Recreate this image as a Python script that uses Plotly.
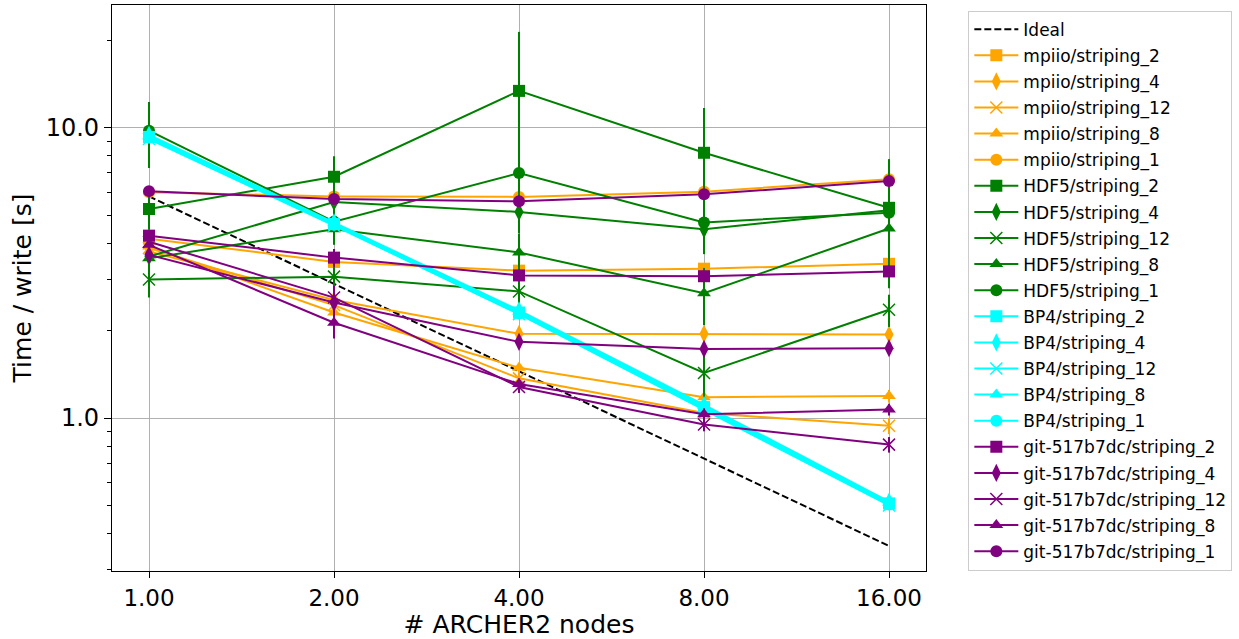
import plotly.graph_objects as go

nodes = [1, 2, 4, 8, 16]
x_ticktext = ["1.00", "2.00", "4.00", "8.00", "16.00"]
y_tickvals = [1, 10]
y_ticktext = ["1.0", "10.0"]

ideal = [5.8, 2.9, 1.45, 0.725, 0.3625]

mpiio_2 = [4.15, 3.45, 3.22, 3.27, 3.40]
mpiio_4 = [3.75, 2.55, 1.95, 1.95, 1.94]
mpiio_12 = [3.85, 2.45, 1.37, 1.04, 0.94]
mpiio_8 = [3.90, 2.31, 1.49, 1.18, 1.19]
mpiio_1 = [6.00, 5.80, 5.78, 6.02, 6.65]
mpiio_err = [0.10, 0.08, 0.06, 0.06, 0.06]

hdf5_2 = [5.25, 6.78, 13.4, 8.2, 5.3]
hdf5_4 = [3.60, 5.55, 5.13, 4.47, 5.2]
hdf5_12 = [3.00, 3.07, 2.73, 1.43, 2.36]
hdf5_8 = [3.55, 4.47, 3.72, 2.69, 4.5]
hdf5_1 = [9.77, 4.75, 6.98, 4.72, 5.1]
hdf5_2_err = [0.8, 1.2, 8.0, 3.5, 2.5]
hdf5_4_err = [0.5, 0.6, 0.8, 0.8, 0.6]
hdf5_12_err = [0.4, 0.3, 0.3, 0.35, 0.3]
hdf5_8_err = [0.4, 0.5, 0.6, 0.6, 0.8]
hdf5_1_err = [2.5, 0.8, 1.5, 1.0, 0.8]

bp4_2 = [9.30, 4.66, 2.31, 1.09, 0.508]
bp4_4 = [9.45, 4.72, 2.35, 1.11, 0.515]
bp4_12 = [9.15, 4.60, 2.28, 1.07, 0.500]
bp4_8 = [9.35, 4.69, 2.33, 1.10, 0.512]
bp4_1 = [9.25, 4.63, 2.29, 1.08, 0.504]
bp4_err = [0.05, 0.03, 0.02, 0.01, 0.005]

git_2 = [4.25, 3.57, 3.10, 3.08, 3.20]
git_4 = [3.65, 2.50, 1.83, 1.73, 1.74]
git_12 = [4.05, 2.60, 1.28, 0.95, 0.81]
git_8 = [3.95, 2.13, 1.31, 1.03, 1.07]
git_1 = [6.05, 5.68, 5.58, 5.90, 6.55]
git_err = [0.12, 0.25, 0.06, 0.05, 0.05]

ORANGE = "#FFA500"
GREEN = "#008000"
CYAN = "#00FFFF"
PURPLE = "#800080"

symbols = {"2": "square", "4": "diamond-tall", "12": "x-thin-open",
           "8": "triangle-up", "1": "circle"}

series = [
    ("mpiio", ORANGE, [("2", mpiio_2, mpiio_err), ("4", mpiio_4, mpiio_err),
                       ("12", mpiio_12, mpiio_err), ("8", mpiio_8, mpiio_err),
                       ("1", mpiio_1, mpiio_err)]),
    ("HDF5", GREEN, [("2", hdf5_2, hdf5_2_err), ("4", hdf5_4, hdf5_4_err),
                     ("12", hdf5_12, hdf5_12_err), ("8", hdf5_8, hdf5_8_err),
                     ("1", hdf5_1, hdf5_1_err)]),
    ("BP4", CYAN, [("2", bp4_2, bp4_err), ("4", bp4_4, bp4_err),
                   ("12", bp4_12, bp4_err), ("8", bp4_8, bp4_err),
                   ("1", bp4_1, bp4_err)]),
    ("git-517b7dc", PURPLE, [("2", git_2, git_err), ("4", git_4, git_err),
                             ("12", git_12, git_err), ("8", git_8, git_err),
                             ("1", git_1, git_err)]),
]

fig = go.Figure()
fig.add_trace(go.Scatter(x=nodes, y=ideal, mode="lines", name="Ideal",
                         legendgroup="ideal",
                         line=dict(color="black", width=2, dash="7px,3px")))

for lib, color, items in series:
    for stripe, vals, err in items:
        sym = symbols[stripe]
        if sym == "x-thin-open":
            marker = dict(symbol=sym, size=12, color=color, line=dict(color=color, width=1.5))
        elif sym == "diamond-tall":
            marker = dict(symbol=sym, size=13, color=color, line=dict(width=0))
        else:
            marker = dict(symbol=sym, size=12, color=color, line=dict(width=0))
        name = f"{lib}/striping_{stripe}"
        fig.add_trace(go.Scatter(
            x=nodes, y=vals, mode="lines+markers",
            name=name, legendgroup=name,
            line=dict(color=color, width=2),
            marker=marker,
            error_y=dict(type="data", array=err, visible=True, color=color,
                         thickness=2, width=0),
        ))

minor_vals = [0.3, 0.4, 0.5, 0.6, 0.7, 0.8, 0.9, 2, 3, 4, 5, 6, 7, 8, 9, 20]

fig.update_layout(
    width=1239, height=639,
    margin=dict(l=112, r=313, t=5, b=68),
    paper_bgcolor="white", plot_bgcolor="white",
    font=dict(family="DejaVu Sans", size=16, color="black"),
    showlegend=True,
    legend=dict(x=1.052, y=0.99, xanchor="left", yanchor="top",
                bordercolor="#cccccc", borderwidth=1, bgcolor="white",
                font=dict(size=17, family="DejaVu Sans"),
                itemwidth=44, tracegroupgap=1.0),
)
fig.update_xaxes(
    type="log", range=[-0.0602, 1.2643],
    tickvals=nodes, ticktext=x_ticktext,
    tickfont=dict(size=23),
    ticks="outside", ticklen=6, tickwidth=1, tickcolor="black",
    showgrid=True, gridcolor="#b0b0b0", gridwidth=1,
    showline=True, linecolor="black", linewidth=1.2, mirror=True,
    zeroline=False,
    title=dict(text="# ARCHER2 nodes", font=dict(size=25), standoff=3),
)
fig.update_yaxes(
    type="log", range=[-0.527, 1.423],
    tickvals=y_tickvals, ticktext=y_ticktext,
    tickfont=dict(size=24),
    ticks="outside", ticklen=7, tickwidth=1, tickcolor="black",
    minor=dict(tickvals=minor_vals, ticks="outside", ticklen=4, tickcolor="black",
               showgrid=False),
    showgrid=True, gridcolor="#b0b0b0", gridwidth=1,
    showline=True, linecolor="black", linewidth=1.2, mirror=True,
    zeroline=False,
    title=dict(text="Time / write [s]", font=dict(size=25), standoff=6),
)

fig.write_html("out.html")
